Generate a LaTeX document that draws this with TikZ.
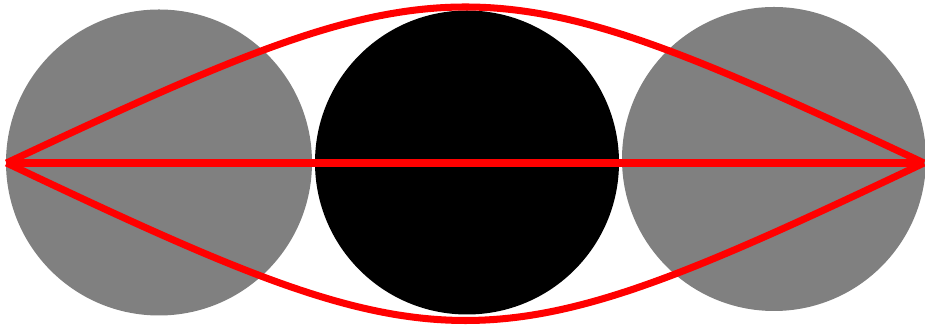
\documentclass[tikz,border=0pt]{standalone}
\usepackage{tikz}
\begin{document}
\begin{tikzpicture}[
  ball/.style={circle, inner sep=0pt, minimum size=6.1cm, fill=gray},
  ray/.style={draw=red, line width=4pt}]
  \useasboundingbox (0,0) rectangle (18.5,6.62);
  % the three discs
  \node[ball, minimum size=6.12cm] (lball) at (3.18,3.37) {};
  \node[ball, fill=black, minimum size=6.08cm] (mball) at (9.34,3.37) {};
  \node[ball, minimum size=6.08cm] (rball) at (15.48,3.44) {};
  % end points of the paths
  \coordinate (src) at (0.13,3.36);
  \coordinate (dst) at (18.48,3.36);
  \draw[ray] (src) -- (dst);
  \draw[ray] (src) .. controls (9.0,7.52) and (9.62,7.52) .. (dst);
  \draw[ray] (src) .. controls (9.0,-0.84) and (9.62,-0.84) .. (dst);
\end{tikzpicture}
\end{document}
